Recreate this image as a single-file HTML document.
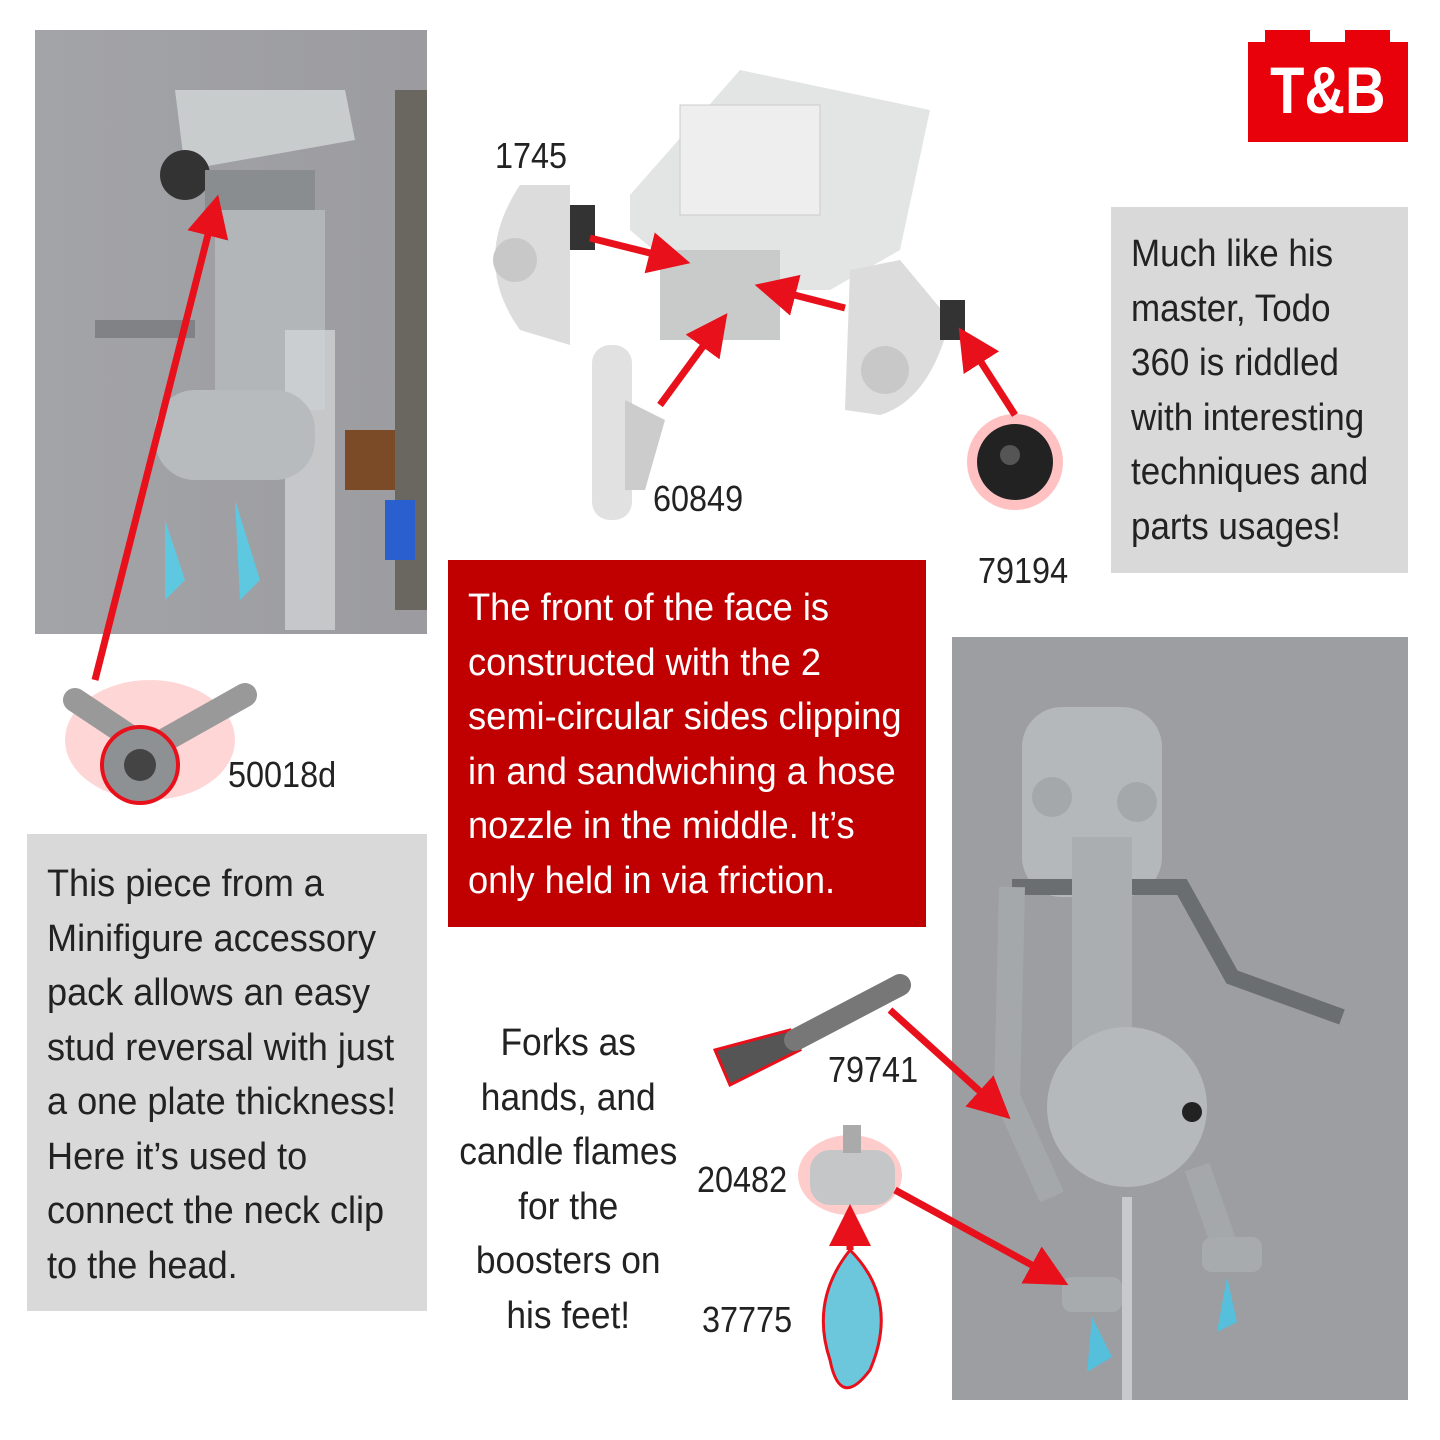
<!DOCTYPE html>
<html><head><meta charset="utf-8"><style>
body{margin:0;width:1440px;height:1440px;background:#fff;position:relative;overflow:hidden;font-family:"Liberation Sans",sans-serif;}
.a{position:absolute}
.txt{font-size:38px;line-height:54.5px;color:#222}
.sq{display:inline-block;transform:scaleX(.94);transform-origin:0 0;white-space:nowrap}
.lbl{position:absolute;font-size:36px;color:#222;transform:scaleX(.9);transform-origin:0 0}
</style></head><body>
<div class="a" style="left:35px;top:30px;width:392px;height:604px;background:linear-gradient(90deg,#a3a4a8,#9c9ca0)"></div>
<svg class="a" style="left:35px;top:30px" width="392" height="604">
<rect x="360" y="60" width="32" height="520" fill="#6a6660"/>
<path d="M140 60 L310 60 L320 110 L150 140 Z" fill="#c9cccd"/>
<circle cx="150" cy="145" r="25" fill="#333"/>
<rect x="170" y="140" width="110" height="40" fill="#8a8d90"/>
<rect x="180" y="180" width="110" height="200" fill="#b3b6b8"/>
<rect x="250" y="300" width="50" height="300" fill="#d5d8da" opacity=".7"/>
<rect x="120" y="360" width="160" height="90" rx="40" fill="#b8bbbd"/>
<rect x="60" y="290" width="100" height="18" fill="#808285"/>
<path d="M130 490 l20 60 -20 20z M200 470 l25 80 -20 20z" fill="#5ec8e0"/>
<rect x="310" y="400" width="50" height="60" fill="#7b4a26"/>
<rect x="350" y="470" width="30" height="60" fill="#2a5fd0"/>
</svg>
<div class="a" style="left:952px;top:637px;width:456px;height:763px;background:#9d9ea2"></div>
<svg class="a" style="left:952px;top:637px" width="456" height="763">
<rect x="70" y="70" width="140" height="190" rx="40" fill="#b5b8ba"/>
<circle cx="100" cy="160" r="20" fill="#a5a8aa"/><circle cx="185" cy="165" r="20" fill="#a5a8aa"/>
<rect x="120" y="200" width="60" height="230" fill="#abaeb0"/>
<path d="M60 250 L120 250 M180 250 L230 250 L280 340 L390 380" stroke="#6b6e71" stroke-width="16" fill="none"/>
<path d="M60 250 L55 460 L100 560" stroke="#a5a8ab" stroke-width="26" fill="none"/>
<circle cx="175" cy="470" r="80" fill="#b6b9bb"/><circle cx="240" cy="475" r="10" fill="#222"/>
<path d="M245 530 L280 630" stroke="#a5a8ab" stroke-width="26"/>
<rect x="250" y="600" width="60" height="35" rx="10" fill="#a8abad"/>
<rect x="110" y="640" width="60" height="35" rx="10" fill="#a8abad"/>
<path d="M140 680 l20 40 -25 15z M275 640 l10 45 -20 10z" fill="#55bfdc"/>
<rect x="170" y="560" width="10" height="203" fill="#c7cacc"/>
</svg>
<svg class="a" style="left:0;top:0" width="1440" height="1440">
<defs><marker id="m" markerWidth="6" markerHeight="6" refX="3" refY="3" orient="auto"><path d="M0 0 L6 3 L0 6z" fill="#e8101a"/></marker></defs>
<path d="M630 195 L740 70 L930 110 L900 250 L830 290 L700 290 L630 230 Z" fill="#e3e4e4"/>
<rect x="680" y="105" width="140" height="110" fill="#eeeeee" stroke="#ccc"/>
<rect x="660" y="250" width="120" height="90" fill="#c9caca"/>
<path d="M520 185 L570 185 L570 345 L520 330 Q470 260 520 185Z" fill="#dcdcdc"/><circle cx="515" cy="260" r="22" fill="#c8c8c8"/>
<path d="M850 270 L900 260 L950 320 Q930 400 880 415 L845 410Z" fill="#dcdcdc"/><circle cx="885" cy="370" r="24" fill="#c8c8c8"/>
<rect x="570" y="205" width="25" height="45" fill="#333"/><rect x="940" y="300" width="25" height="40" fill="#333"/>
<rect x="592" y="345" width="40" height="175" rx="18" fill="#e1e1e1"/><path d="M625 400 l40 20 -20 70 -20 0z" fill="#ccc"/>
<circle cx="1015" cy="462" r="48" fill="#f33" opacity=".3"/><circle cx="1015" cy="462" r="38" fill="#222"/><circle cx="1010" cy="455" r="10" fill="#555"/>
<ellipse cx="150" cy="740" rx="85" ry="60" fill="#f33" opacity=".2"/>
<path d="M75 700 l60 40 M245 695 l-80 45" stroke="#999" stroke-width="24" stroke-linecap="round"/>
<circle cx="140" cy="765" r="38" fill="#8e9194" stroke="#e8101a" stroke-width="4"/><circle cx="140" cy="765" r="16" fill="#444"/>
<path d="M715 1050 L790 1030 L800 1050 L730 1085 Z" fill="#555" stroke="#e8101a" stroke-width="3"/>
<path d="M795 1040 L900 985" stroke="#777" stroke-width="22" stroke-linecap="round"/>
<ellipse cx="850" cy="1175" rx="52" ry="40" fill="#f33" opacity=".25"/>
<rect x="810" y="1150" width="85" height="55" rx="20" fill="#c4c6c8"/><rect x="843" y="1125" width="18" height="28" fill="#aaa"/>
<path d="M850 1250 Q900 1300 870 1370 Q840 1410 830 1360 Q810 1300 850 1250Z" fill="#6cc7dd" stroke="#e8101a" stroke-width="3"/>
<g stroke="#e8101a" stroke-width="7" fill="none" marker-end="url(#m)">
<line x1="95" y1="680" x2="213" y2="215"/>
<line x1="590" y1="238" x2="670" y2="258"/>
<line x1="845" y1="308" x2="775" y2="290"/>
<line x1="660" y1="405" x2="715" y2="330"/>
<line x1="1015" y1="415" x2="970" y2="345"/>
<line x1="890" y1="1010" x2="995" y2="1105"/>
<line x1="895" y1="1190" x2="1050" y2="1275"/>
<line x1="850" y1="1250" x2="850" y2="1225"/>
</g>
</svg>
<div class="lbl" style="left:495px;top:135px">1745</div>
<div class="lbl" style="left:653px;top:478px">60849</div>
<div class="lbl" style="left:978px;top:550px">79194</div>
<div class="lbl" style="left:228px;top:754px">50018d</div>
<div class="lbl" style="left:828px;top:1049px">79741</div>
<div class="lbl" style="left:697px;top:1159px">20482</div>
<div class="lbl" style="left:702px;top:1299px">37775</div>
<div class="a" style="left:1248px;top:42px;width:160px;height:100px;background:#e8000b"></div>
<div class="a" style="left:1265px;top:30px;width:45px;height:20px;background:#e8000b"></div>
<div class="a" style="left:1345px;top:30px;width:45px;height:20px;background:#e8000b"></div>
<div class="a" style="left:1248px;top:52px;width:160px;text-align:center;color:#fff;font:bold 66px 'Liberation Sans',sans-serif;"><span style="display:inline-block;transform:scaleX(.85)">T&amp;B</span></div>
<div class="a txt" style="left:1111px;top:207px;width:297px;height:366px;background:#d9d9d9;box-sizing:border-box;padding:20px 0 0 20px"><span class="sq" style="transform:scaleX(.92)">Much like his<br>master, Todo<br>360 is riddled<br>with interesting<br>techniques and<br>parts usages!</span></div>
<div class="a txt" style="left:448px;top:560px;width:478px;height:367px;background:#c00000;color:#fff;box-sizing:border-box;padding:21px 0 0 20px"><span class="sq" style="transform:scaleX(.955)">The front of the face is<br>constructed with the 2<br>semi-circular sides clipping<br>in and sandwiching a hose<br>nozzle in the middle. It’s<br>only held in via friction.</span></div>
<div class="a txt" style="left:27px;top:834px;width:400px;height:477px;background:#d9d9d9;box-sizing:border-box;padding:23px 0 0 20px"><span class="sq" style="transform:scaleX(.95)">This piece from a<br>Minifigure accessory<br>pack allows an easy<br>stud reversal with just<br>a one plate thickness!<br>Here it’s used to<br>connect the neck clip<br>to the head.</span></div>
<div class="a txt" style="left:448px;top:1016px;width:240px;text-align:center"><span style="display:inline-block;transform:scaleX(.93)">Forks as<br>hands, and<br>candle flames<br>for the<br>boosters on<br>his feet!</span></div>
</body></html>
